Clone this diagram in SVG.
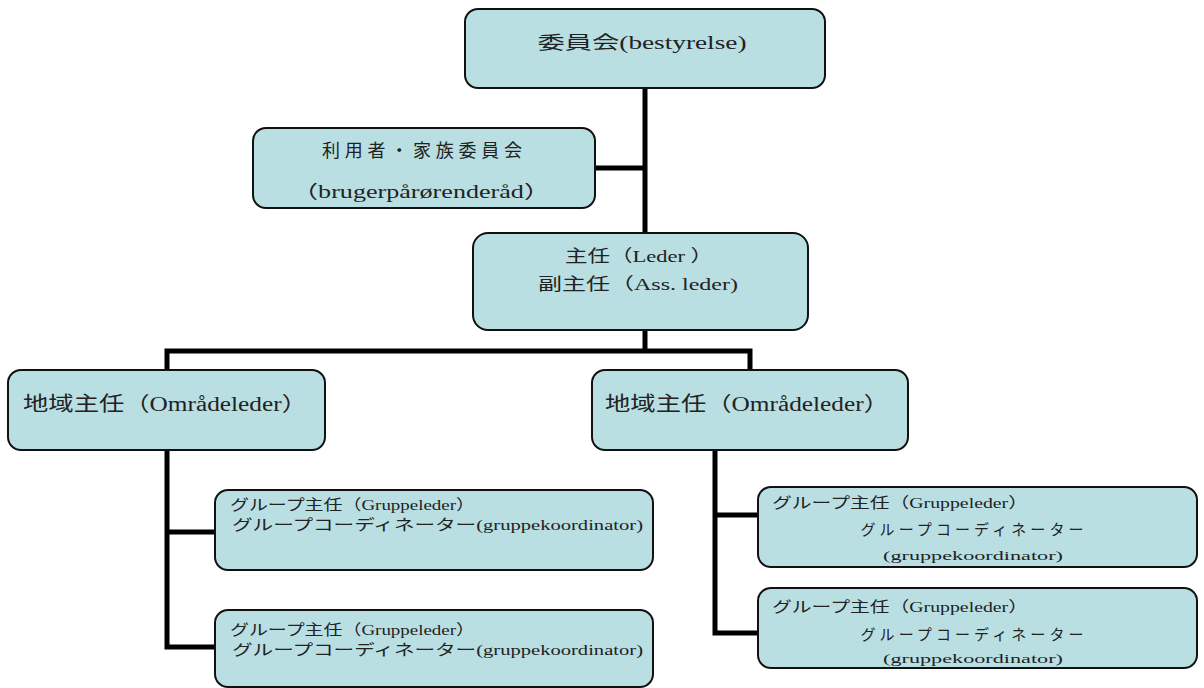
<svg xmlns="http://www.w3.org/2000/svg" width="1204" height="688" viewBox="0 0 1204 688">
  <style>
    .box { fill: #b9dfe2; stroke: #111; stroke-width: 2; }
    .wire { fill: none; stroke: #000; stroke-width: 5; stroke-linejoin: miter; stroke-linecap: butt; }
    text { font-family: "Liberation Serif", "Noto Sans CJK JP", serif; fill: #222; }
    .c { text-anchor: middle; }
    .l { font-size: 17px; }
    .m { font-size: 15px; }
    .s { font-size: 13px; }
    .xl { font-size: 20px; }
  </style>

  <g id="connectors">
    <path class="wire" d="M645 88 V233"/>
    <path class="wire" d="M595 168 H645"/>
    <path class="wire" d="M645 330 V351"/>
    <path class="wire" d="M167 370 V351 H750 V370"/>
    <path class="wire" d="M167 450 V647 H215"/>
    <path class="wire" d="M167 532 H215"/>
    <path class="wire" d="M715 450 V633 H758"/>
    <path class="wire" d="M715 515 H758"/>
  </g>

  <g id="board">
    <rect class="box" x="465" y="9" width="360" height="79" rx="13"/>
    <text class="c" x="642" y="49" font-size="18" textLength="209" lengthAdjust="spacingAndGlyphs">委員会(bestyrelse)</text>
  </g>

  <g id="user-council">
    <rect class="box" x="253" y="128" width="342" height="80" rx="13"/>
    <text class="c" x="422" y="157" font-size="18" textLength="200" lengthAdjust="spacing">利用者・家族委員会</text>
    <text class="c" x="421" y="198" font-size="18" textLength="258" lengthAdjust="spacingAndGlyphs">（brugerpårørenderåd）</text>
  </g>

  <g id="leader">
    <rect class="box" x="473" y="233" width="335" height="97" rx="15"/>
    <text class="c l" x="639" y="262" textLength="148" lengthAdjust="spacingAndGlyphs">主任（Leder ）</text>
    <text class="c l" x="638" y="290" textLength="200" lengthAdjust="spacingAndGlyphs">副主任（Ass. leder)</text>
  </g>

  <g id="area-left">
    <rect class="box" x="8" y="370" width="317" height="80" rx="13"/>
    <text class="xl" x="23" y="411" textLength="284" lengthAdjust="spacingAndGlyphs">地域主任（Områdeleder）</text>
  </g>

  <g id="area-right">
    <rect class="box" x="592" y="370" width="316" height="80" rx="13"/>
    <text class="xl" x="605" y="411" textLength="284" lengthAdjust="spacingAndGlyphs">地域主任（Områdeleder）</text>
  </g>

  <g id="group-left-1">
    <rect class="box" x="215" y="490" width="438" height="80" rx="13"/>
    <text class="m" x="230" y="510" textLength="245" lengthAdjust="spacingAndGlyphs">グループ主任（Gruppeleder）</text>
    <text class="m" x="232" y="530" textLength="411" lengthAdjust="spacingAndGlyphs">グループコーディネーター(gruppekoordinator)</text>
  </g>

  <g id="group-left-2">
    <rect class="box" x="215" y="610" width="438" height="77" rx="13"/>
    <text class="m" x="230" y="635" textLength="245" lengthAdjust="spacingAndGlyphs">グループ主任（Gruppeleder）</text>
    <text class="m" x="232" y="655" textLength="411" lengthAdjust="spacingAndGlyphs">グループコーディネーター(gruppekoordinator)</text>
  </g>

  <g id="group-right-1">
    <rect class="box" x="758" y="487" width="439" height="80" rx="13"/>
    <text class="m" x="772" y="508" textLength="256" lengthAdjust="spacingAndGlyphs">グループ主任（Gruppeleder）</text>
    <text class="c m" x="972" y="535" textLength="223" lengthAdjust="spacing">グループコーディネーター</text>
    <text class="c s" x="973" y="560" textLength="180" lengthAdjust="spacingAndGlyphs">(gruppekoordinator)</text>
  </g>

  <g id="group-right-2">
    <rect class="box" x="758" y="588" width="439" height="80" rx="13"/>
    <text class="m" x="772" y="612" textLength="256" lengthAdjust="spacingAndGlyphs">グループ主任（Gruppeleder）</text>
    <text class="c m" x="972" y="640" textLength="223" lengthAdjust="spacing">グループコーディネーター</text>
    <text class="c s" x="973" y="663" textLength="180" lengthAdjust="spacingAndGlyphs">(gruppekoordinator)</text>
  </g>
</svg>
